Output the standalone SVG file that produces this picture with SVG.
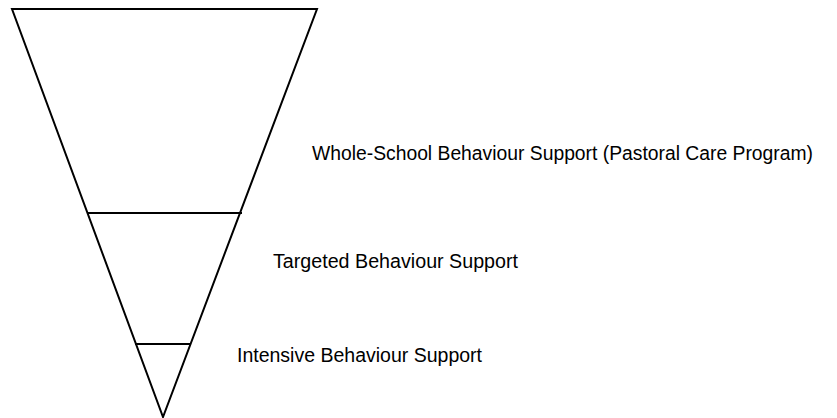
<svg xmlns="http://www.w3.org/2000/svg" width="837" height="418" viewBox="0 0 837 418">
  <style>
    .edge { fill: none; stroke: #000; stroke-width: 2; stroke-linecap: square; }
    .label { font-family: "Liberation Sans Narrow", "Liberation Sans", Arial, sans-serif; font-size: 19.5px; fill: #000; }
  </style>
  <rect width="837" height="418" fill="#fff"/>
  <!-- inverted triangle outline -->
  <g id="pyramid">
    <polygon class="edge" points="12,9 317,9 163,417"/>
  </g>
  <!-- tier dividers -->
  <g id="connectors">
    <line class="edge" x1="88" y1="213" x2="241" y2="213"/>
    <line class="edge" x1="136" y1="344" x2="190" y2="344"/>
  </g>
  <g id="tier-whole-school">
    <text class="label" x="312" y="160" textLength="501" lengthAdjust="spacingAndGlyphs">Whole-School Behaviour Support (Pastoral Care Program)</text>
  </g>
  <g id="tier-targeted">
    <text class="label" x="273" y="268" textLength="245" lengthAdjust="spacingAndGlyphs">Targeted Behaviour Support</text>
  </g>
  <g id="tier-intensive">
    <text class="label" x="237" y="362" textLength="245" lengthAdjust="spacingAndGlyphs">Intensive Behaviour Support</text>
  </g>
</svg>
